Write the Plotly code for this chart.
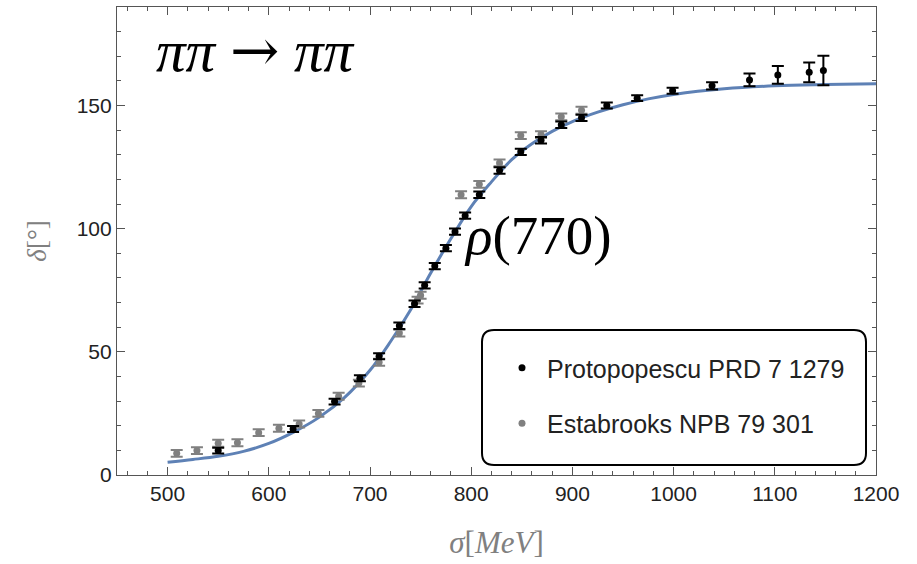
import plotly.graph_objects as go

# Protopopescu PRD 7 1279 (black)
proto_x = [550, 624, 665, 690, 709, 729, 744, 754, 764, 775, 784, 794, 808, 828, 849, 869, 889, 909, 934, 964, 999, 1038, 1075, 1103, 1134, 1148]
proto_y = [9.9, 18.7, 29.8, 39.3, 48.2, 60.6, 69.5, 77.0, 84.8, 92.1, 98.8, 105.3, 113.8, 123.6, 131.2, 135.9, 142.2, 145.0, 150.0, 153.0, 156.0, 158.0, 160.4, 162.4, 163.5, 164.2]
proto_err = [1.2, 1.2, 1.2, 1.2, 1.2, 1.3, 1.3, 1.3, 1.3, 1.3, 1.3, 1.3, 1.3, 1.3, 1.3, 1.3, 1.3, 1.3, 1.2, 1.2, 1.2, 1.5, 2.6, 3.6, 4.0, 6.0]

# Estabrooks NPB 79 301 (gray)
estab_x = [509, 529, 550, 569, 590, 610, 630, 649, 669, 689, 709, 729, 747, 750, 790, 808, 828, 849, 869, 889, 909]
estab_y = [8.8, 9.9, 12.9, 13.1, 17.2, 19.0, 20.7, 25.0, 32.0, 37.3, 45.8, 57.6, 71.0, 73.0, 113.8, 118.0, 126.7, 137.8, 138.2, 145.4, 148.1]
estab_err = [1.4] * len(estab_x)

# fitted curve
fit_x = [500, 525, 550, 575, 600, 625, 650, 675, 700, 720, 740, 760, 780, 800, 820, 840, 860, 880, 900, 925, 950, 975, 1000, 1050, 1100, 1150, 1200]
fit_y = [5.2, 6.3, 7.6, 9.6, 12.8, 17.5, 23.5, 31.5, 42.5, 54.0, 67.0, 82.0, 96.0, 109.0, 119.0, 128.0, 134.5, 139.5, 143.5, 147.3, 150.3, 152.7, 154.5, 156.8, 158.0, 158.5, 158.8]

x_ticks = [500, 600, 700, 800, 900, 1000, 1100, 1200]
y_ticks = [0, 50, 100, 150]

fig = go.Figure()
fig.add_trace(go.Scatter(x=fit_x, y=fit_y, mode="lines", line=dict(color="#5E81B5", width=3, shape="spline"),
                         showlegend=False, hoverinfo="skip"))
fig.add_trace(go.Scatter(x=estab_x, y=estab_y, mode="markers", name="Estabrooks NPB 79 301",
                         marker=dict(color="#808080", size=7),
                         error_y=dict(type="data", array=estab_err, color="#808080", thickness=2, width=6),
                         legendgroup="b", legendrank=2))
fig.add_trace(go.Scatter(x=proto_x, y=proto_y, mode="markers", name="Protopopescu PRD 7 1279",
                         marker=dict(color="#000000", size=7),
                         error_y=dict(type="data", array=proto_err, color="#000000", thickness=2, width=6),
                         legendgroup="a", legendrank=1))

L, R, T, B = 117, 41, 7, 89
W, H = 917, 564
pw, ph = W - L - R, H - T - B

def px(xp):
    return (xp - L) / pw

def py(yp):
    return (H - B - yp) / ph

x0, x1, y0, y1 = px(482), px(866), py(465), py(330)
rx, ry = 12 / pw, 12 / ph
path = (f"M {x0+rx},{y0} L {x1-rx},{y0} Q {x1},{y0} {x1},{y0+ry} L {x1},{y1-ry} Q {x1},{y1} {x1-rx},{y1} "
        f"L {x0+rx},{y1} Q {x0},{y1} {x0},{y1-ry} L {x0},{y0+ry} Q {x0},{y0} {x0+rx},{y0} Z")
fig.add_shape(type="path", path=path, xref="paper", yref="paper", line=dict(color="#000", width=2),
              fillcolor="white", layer="above")

axis_common = dict(showgrid=False, zeroline=False, showline=True, linecolor="#555", linewidth=1.2,
                   mirror="allticks", ticks="inside", ticklen=8, tickwidth=1, tickcolor="#555",
                   tickfont=dict(family="Liberation Sans", size=21, color="#222"))

fig.update_xaxes(range=[450, 1200], tickvals=x_ticks, ticktext=[str(v) for v in x_ticks],
                 minor=dict(dtick=20, tick0=0, ticks="inside", ticklen=4, tickcolor="#555"),
                 title=dict(text="<i>σ</i>[<i>MeV</i>]", font=dict(family="Liberation Serif", size=31, color="#808080"),
                            standoff=27),
                 **axis_common)
fig.update_yaxes(range=[0, 190], tickvals=y_ticks, ticktext=[str(v) for v in y_ticks],
                 minor=dict(dtick=10, tick0=0, ticks="inside", ticklen=4, tickcolor="#555"),
                 title=dict(text="<i>δ</i>[°]", font=dict(family="Liberation Serif", size=27, color="#808080"),
                            standoff=22),
                 **axis_common)

fig.add_annotation(text="<i>ππ</i> <span style='font-family:DejaVu Serif'>→</span> <i>ππ</i>",
                   xref="paper", yref="paper", x=px(255), y=py(50), xanchor="center", yanchor="middle",
                   showarrow=False, font=dict(family="Liberation Serif", size=59, color="#000"))
fig.add_annotation(text="<i>ρ</i>(770)", xref="paper", yref="paper", x=px(538), y=py(235),
                   xanchor="center", yanchor="middle",
                   showarrow=False, font=dict(family="Liberation Serif", size=55, color="#000"))

fig.update_layout(width=W, height=H, margin=dict(l=L, r=R, t=T, b=B),
                  paper_bgcolor="white", plot_bgcolor="white",
                  legend=dict(x=px(497), y=py(345), xanchor="left", yanchor="top", traceorder="grouped",
                              tracegroupgap=20, bgcolor="rgba(0,0,0,0)", itemwidth=40,
                              font=dict(family="Liberation Sans", size=25, color="#222")))

fig.write_html("out.html", config={"displayModeBar": False},
               post_script="document.body.style.margin='0px';")
